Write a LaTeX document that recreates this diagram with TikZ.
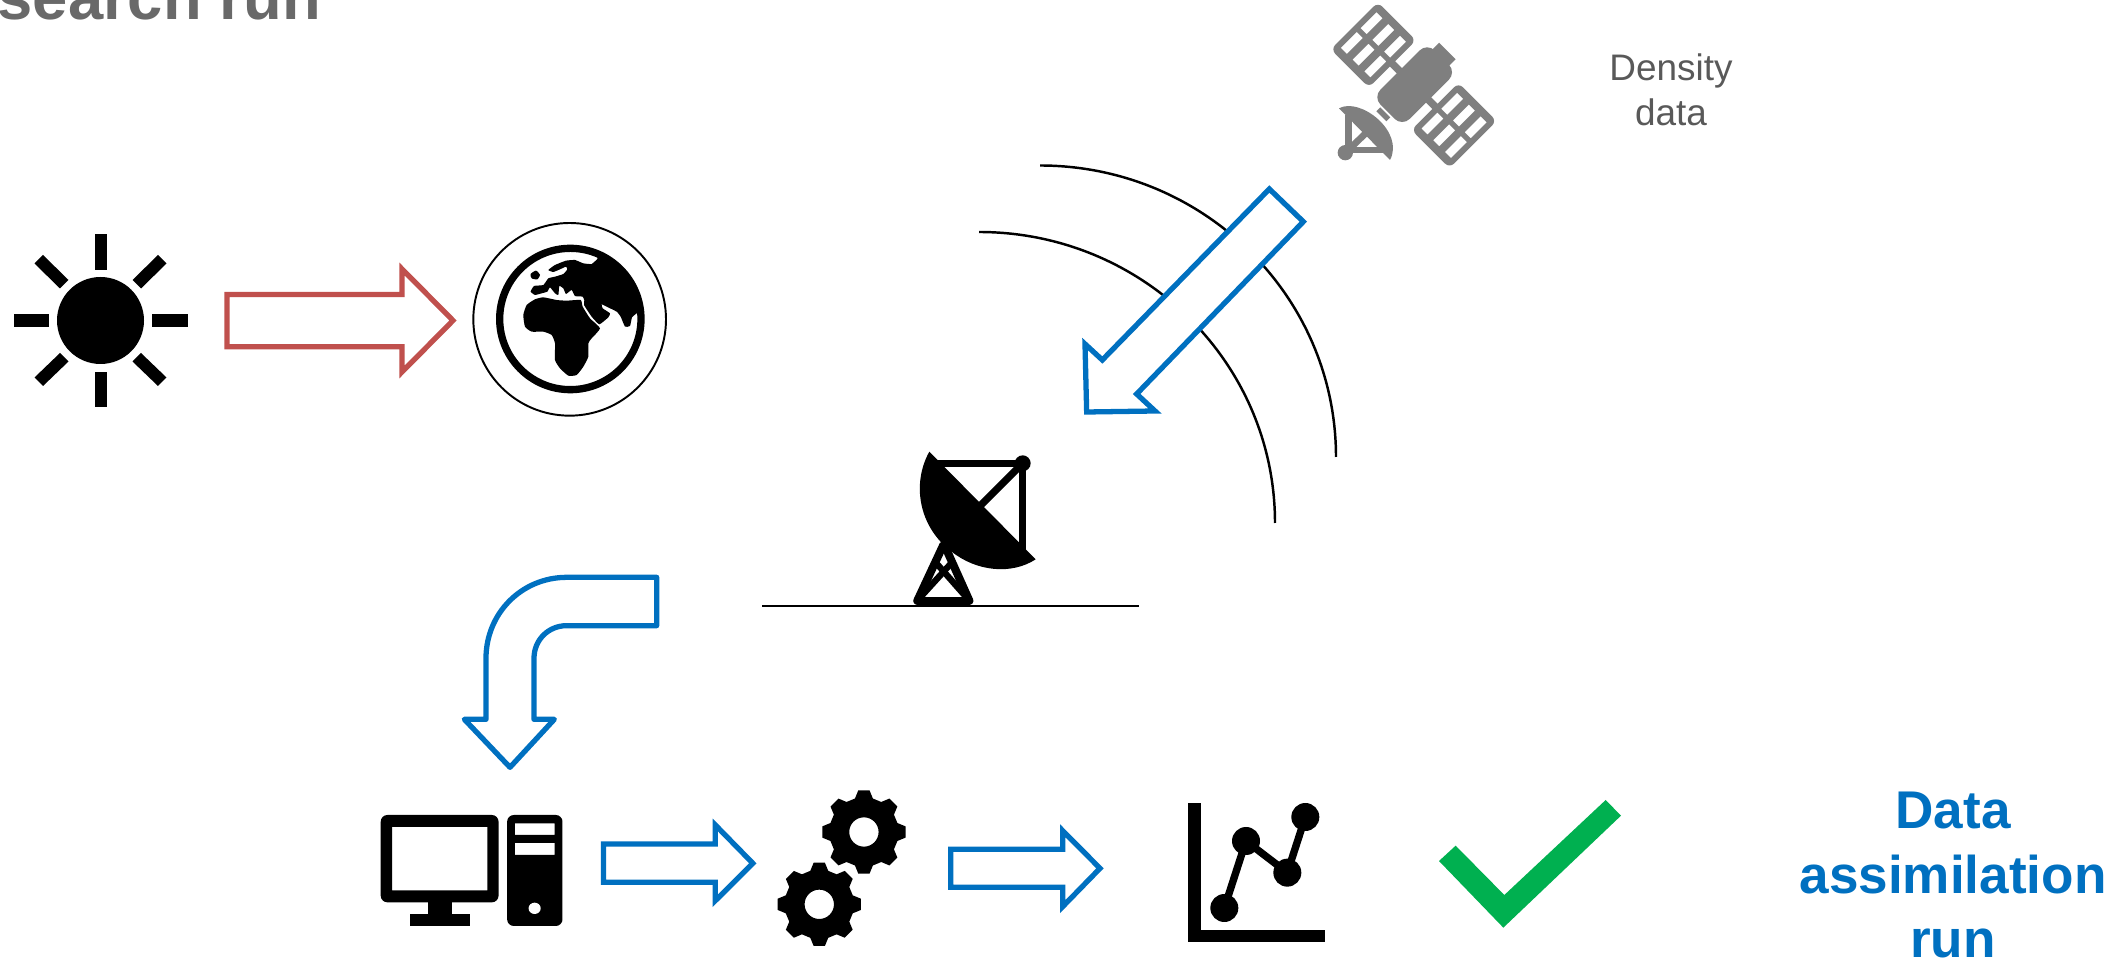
\documentclass[tikz,border=0pt]{standalone}
\usepackage{fontspec}
\setmainfont{Liberation Sans}
\definecolor{dablue}{HTML}{0070C0}
\definecolor{dared}{HTML}{C0504D}
\definecolor{dagreen}{HTML}{00B050}
\definecolor{satgray}{HTML}{7F7F7F}
\definecolor{titlegray}{HTML}{696969}
\definecolor{labelgray}{HTML}{595959}
\tikzset{
  px/.style={shift={(#1)},scale=1/3},
  blockarrow/.style={draw=#1,fill=white,line width=1.5pt,miter limit=10},
  arcline/.style={draw=black,line width=0.7pt},
  gearicon/.style={fill=black,even odd rule},
  ink/.style={draw=black,line width=#1,line cap=butt},
  satink/.style={draw=satgray,line width=#1}
}
\newcommand{\gearshape}{%
  \fill[gearicon] (-15:104) foreach \k in {0,45,...,315} { -- (\k-15:104) -- (\k-7.7:126) -- (\k+7.7:126) -- (\k+15:104) } -- cycle (0,0) circle (44);}
\newcommand{\solarpanel}{%
  \fill[satgray,even odd rule,rounded corners=1.8pt] (-100,-81) rectangle (100,81)
   [sharp corners] foreach \v in {-50,0,50} { (-76,\v-13) rectangle (-8,\v+13) (8,\v-13) rectangle (76,\v+13) };}
\begin{document}
\begin{tikzpicture}[x=0.01cm,y=-0.01cm]
\useasboundingbox (0,0) rectangle (2126,964);
\clip (0,0) rectangle (2126,964);
% title fragment
\node[font=\fontsize{18}{20}\bfseries\selectfont,text=titlegray,anchor=base west,inner sep=0] (title) at (-3,20) {search run};
% sun
\fill (100.5,320.5) circle (43.5);
\fill (94.5,234) rectangle (107,270);
\fill (94.5,372) rectangle (107,407.5);
\fill (13.5,314.3) rectangle (49,326.7);
\fill (152,314.3) rectangle (187.5,326.7);
\fill (43,255) -- (34.5,263.5) -- (60,288.5) -- (68.5,280) -- cycle;
\fill (158,255) -- (166.5,263.5) -- (141,288.5) -- (132.5,280) -- cycle;
\fill (43,386) -- (34.5,377.5) -- (60,353) -- (68.5,361.5) -- cycle;
\fill (158,386) -- (166.5,377.5) -- (141,353) -- (132.5,361.5) -- cycle;
% red arrow
\draw[blockarrow=dared] (227,294.5) -- (402,294.5) -- (402,269) -- (453,320.5) -- (402,372) -- (402,346.7) -- (227,346.7) -- cycle;
% earth
\begin{scope}[px={460,210}]
\draw[line width=0.55pt] (329,328) circle (289);
\draw[line width=2.08pt] (331,327) circle (212);
\begin{scope}
\clip (331,327) circle (205);
\fill plot[smooth,tension=0.25] coordinates {(412,147) (395,162) (370,160) (345,150) (318,152) (285,165) (265,180) (280,186) (300,178) (318,170) (322,178) (310,192) (285,200) (265,205) (250,225) (222,228) (212,245) (225,255) (245,250) (262,245) (270,232) (285,250) (295,255) (298,228) (310,235) (318,252) (335,240) (345,258) (368,260) (373,272) (372,285) (395,320) (418,343) (445,322) (450,310) (428,295) (425,283) (440,290) (470,305) (482,320) (495,350) (510,348) (516,322) (530,310)} -- (600,310) -- (600,100) -- (412,100) -- cycle;
\fill plot[smooth cycle,tension=0.3] coordinates {(190,315) (200,285) (225,268) (250,262) (290,270) (320,272) (362,270) (368,290) (390,325) (420,355) (395,385) (385,400) (385,440) (370,470) (350,495) (325,497) (300,475) (285,450) (285,400) (275,375) (250,365) (215,365) (195,350)};
\fill plot[smooth cycle,tension=0.4] coordinates {(228,182) (240,195) (232,208) (215,205) (212,192)};
\end{scope}
\end{scope}
% signal arcs
\draw[arcline] (1040,165.5) arc[start angle=90,end angle=0,x radius=296,y radius=-291.5];
\draw[arcline] (979,232) arc[start angle=90,end angle=0,x radius=296,y radius=-291];
% downlink arrow
\begin{scope}[px={1060,170}]
\draw[blockarrow=dablue] (628,57) -- (730,155) -- (230,672) -- (285,723) -- (80,726) -- (75,522) -- (127,570) -- cycle;
\end{scope}
% satellite
\begin{scope}[px={1280,0}]
\begin{scope}[shift={(404,254)},rotate=45]
 \begin{scope}[shift={(-3,-172)}]\solarpanel\end{scope}
 \begin{scope}[shift={(-3,170)}]\solarpanel\end{scope}
 \fill[satgray] (-14,-94) rectangle (8,94);
 \fill[satgray,rounded corners=3pt] (-115,-62) rectangle (115,62);
 \fill[satgray] (105,-37) rectangle (141,33);
\end{scope}
\fill[satgray] (177,325) .. controls (240,290) and (375,395) .. (330,480) -- cycle;
\draw[satink=1.6pt] (295,328) -- (325,358);
\draw[satink=1.9pt] (205,345) -- (205,460);
\draw[satink=1.9pt] (195,450) -- (315,450);
\draw[satink=1.9pt] (195,460) -- (265,392);
\fill[satgray] (196,458) circle (23);
\end{scope}
\node[font=\fontsize{10.5}{12.77}\selectfont,text=labelgray,align=center,inner sep=0] (density) at (1671,90) {Density\\data};
% ground station
\draw[line width=0.7pt] (762,606) -- (1139,606);
\begin{scope}[px={880,430}]
\fill (148,65) .. controls (95,160) and (115,290) .. (215,365) .. controls (290,425) and (395,435) .. (467,388) -- cycle;
\draw[ink=2.1pt] (160,100) -- (428,100);
\draw[ink=2.1pt] (428,100) -- (428,360);
\draw[ink=2.1pt] (428,100) -- (300,228);
\fill (428,100) circle (24);
\draw[line width=2.3pt,line join=round,line cap=round] (112,512) -- (190,345);
\draw[line width=2.3pt,line join=round,line cap=round] (268,512) -- (200,360);
\draw[line width=2.3pt,line cap=round] (112,512) -- (268,512);
\draw[line width=1.8pt] (165,395) -- (262,505);
\draw[line width=1.8pt] (218,395) -- (118,505);
\end{scope}
% curved arrow
\begin{scope}[px={450,560}]
\draw[blockarrow=dablue,line join=round] (620,52) -- (620,197) -- (350,197) .. controls (295,197) and (252,240) .. (252,295) -- (252,478) -- (313,478) -- (180,622) -- (43,478) -- (108,478) -- (108,295) .. controls (108,160) and (215,52) .. (350,52) -- cycle;
\end{scope}
% computer, arrow and gears
\begin{scope}[px={360,780},xscale=15/14]
\fill[even odd rule,rounded corners=1.9pt] (58,105) rectangle (388,367) [sharp corners] (90,141) rectangle (357,331);
\fill (190,360) rectangle (257,402);
\fill (140,402) rectangle (307,438);
\fill[even odd rule,rounded corners=1.9pt] (412,105) rectangle (567,438) [sharp corners] (434,130) rectangle (545,165) (434,189) rectangle (545,225);
\fill[white] (489,385) circle (17);
\draw[blockarrow=dablue] (682,192) -- (995,192) -- (995,135) -- (1100,250) -- (995,362) -- (995,307) -- (682,307) -- cycle;
\begin{scope}[shift={(1411,156)},xscale=14/15]\gearshape\end{scope}
\begin{scope}[shift={(1286,373)},xscale=14/15]\gearshape\end{scope}
\end{scope}
% third arrow
\begin{scope}[px={930,810}]
\draw[blockarrow=dablue] (62,118) -- (398,118) -- (398,62) -- (510,175) -- (398,290) -- (398,232) -- (62,232) -- cycle;
\end{scope}
% chart and tick
\begin{scope}[px={1170,780}]
\fill (55,70) rectangle (92,485);
\fill (55,450) rectangle (465,485);
\draw[line width=2.1pt] (163,384) -- (228,183) -- (352,278) -- (406,111);
\fill (163,384) circle (42);
\fill (228,183) circle (42);
\fill (352,278) circle (42);
\fill (406,111) circle (42);
\fill[dagreen] (807,243) -- (857,197) -- (1003,345) -- (1307,60) -- (1353,107) -- (1000,443) -- cycle;
\end{scope}
\node[font=\fontsize{15.1}{18.3}\bfseries\selectfont,text=dablue,align=center,inner sep=0] (runlabel) at (1953,875) {Data\\assimilation\\run};
\end{tikzpicture}
\end{document}
